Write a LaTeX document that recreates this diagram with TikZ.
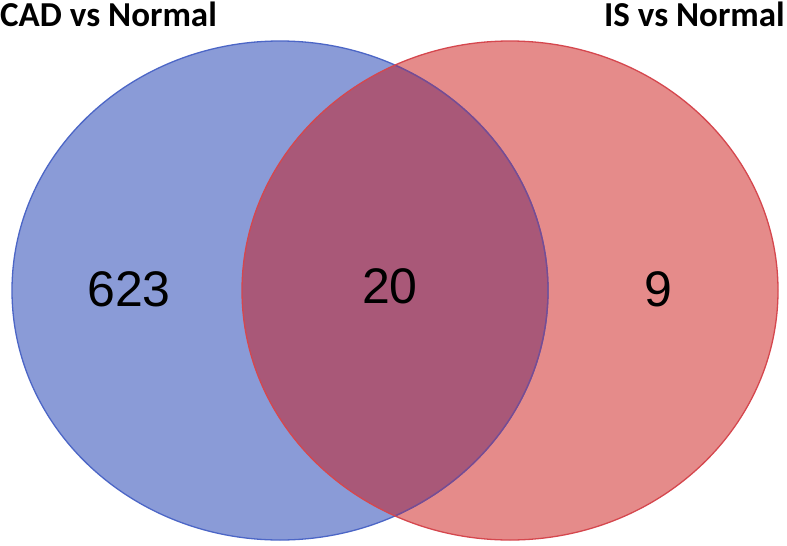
\documentclass[tikz,border=0pt]{standalone}
\usepackage{fontspec}
\setmainfont{Liberation Sans}
\newfontfamily\titlefont{Carlito}
\definecolor{cadfill}{HTML}{8A9BD7}
\definecolor{cadline}{HTML}{4C66C6}
\definecolor{isfill}{HTML}{E58B8A}
\definecolor{isline}{HTML}{D5474E}
\definecolor{bothfill}{HTML}{A95878}
\definecolor{bothline}{HTML}{7C4A8E}
\begin{document}
\begin{tikzpicture}[x=1pt, y=-1pt, line join=round, line cap=round,
    title/.style={font=\titlefont\bfseries\fontsize{35}{38}\selectfont},
    count/.style={anchor=base, font=\fontsize{50}{56}\selectfont}]
            \useasboundingbox (0,0) rectangle (787,546);
            \coordinate (cad) at (280,290.5);
            \coordinate (is) at (510,290.5);
            % fills
            \fill[cadfill] (cad) ellipse [x radius=268, y radius=249.5];
            \fill[isfill] (is) ellipse [x radius=268, y radius=249.5];
            \begin{scope}
                \clip (cad) ellipse [x radius=268, y radius=249.5];
                \fill[bothfill] (is) ellipse [x radius=268, y radius=249.5];
            \end{scope}
            % outlines
            \draw[cadline, line width=1.3pt] (cad) ellipse [x radius=268, y radius=249.5];
            \begin{scope}
                \clip (is) ellipse [x radius=268, y radius=249.5];
                \draw[bothline, line width=1.3pt] (cad) ellipse [x radius=268, y radius=249.5];
            \end{scope}
            \draw[isline, line width=1.3pt] (is) ellipse [x radius=268, y radius=249.5];
            % labels
            \node[title, anchor=base west, inner sep=0pt] (cadtitle) at (0,27) {CAD vs Normal};
            \node[title, anchor=base east, inner sep=0pt] (istitle) at (785,26) {IS vs Normal};
            \node[count] (cadonly) at (129,306) {623};
            \node[count] (shared) at (390,303) {20};
            \node[count] (isonly) at (658,306) {9};
        \end{tikzpicture}
\end{document}
